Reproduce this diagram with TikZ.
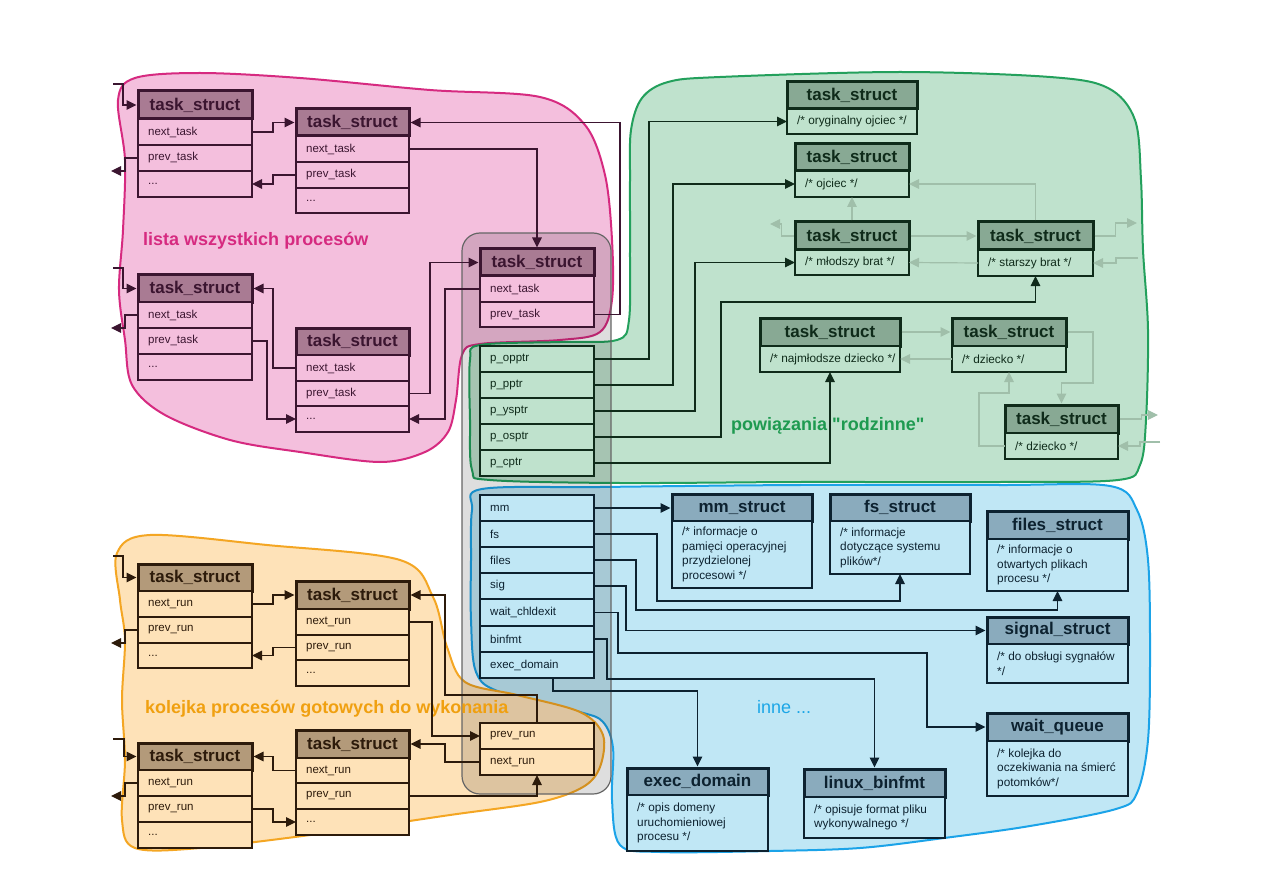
\documentclass[tikz,border=0pt]{standalone}
\usepackage{fontspec}
\setmainfont{Liberation Sans}[Ligatures=TeXOff]
\usetikzlibrary{arrows.meta,calc}
\definecolor{pF}{HTML}{F4BFDD}\definecolor{pO}{HTML}{D62A80}\definecolor{pH}{HTML}{A97B93}\definecolor{pD}{HTML}{3B1530}
\definecolor{gF}{HTML}{BFE2CD}\definecolor{gO}{HTML}{23A05C}\definecolor{gH}{HTML}{88A994}\definecolor{gD}{HTML}{0F2B1A}\definecolor{gL}{HTML}{A0BFAA}\definecolor{gT}{HTML}{1E9A50}
\definecolor{bF}{HTML}{C0E7F5}\definecolor{bO}{HTML}{1BA3E8}\definecolor{bH}{HTML}{8AABBD}\definecolor{bD}{HTML}{0D2230}\definecolor{bT}{HTML}{1BA6E6}
\definecolor{oF}{HTML}{FEE2B8}\definecolor{oO}{HTML}{F4A623}\definecolor{oH}{HTML}{B39A7A}\definecolor{oD}{HTML}{2D1B0B}\definecolor{oT}{HTML}{F0A010}
\newcommand{\hdrbx}[7]{\pgfmathsetmacro\bxw{#5-#3}\pgfmathsetmacro\bxh{#6-#4}\pgfmathsetmacro\bxx{(#3+#5)/2}\pgfmathsetmacro\bxy{(#4+#6)/2}\node[#2, minimum width=\bxw pt, minimum height=\bxh pt] (#1) at (\bxx,\bxy) {#7};}
\newcommand{\rowbx}[8]{\hdrbx{#1}{#2}{#3}{#4}{#5}{#6}{}\node[#7] (#1t) at ([xshift=10pt]#1.west) {#8};}
\begin{document}
\begin{tikzpicture}[x=1pt,y=-1pt,
  hdrbase/.style={draw, line width=3pt, inner sep=0pt, outer sep=1.5pt, font=\bfseries\fontsize{17}{20}\selectfont},
  hP/.style={hdrbase, fill=pH, draw=pD, text=pD},
  hG/.style={hdrbase, fill=gH, draw=gD, text=gD},
  hB/.style={hdrbase, fill=bH, draw=bD, text=bD},
  hO/.style={hdrbase, fill=oH, draw=oD, text=oD},
  rowbase/.style={draw, line width=1.2pt, inner sep=0pt, outer sep=0pt},
  rP/.style={rowbase, fill=pF, draw=pD},
  rG/.style={rowbase, fill=gF, draw=gD},
  rB/.style={rowbase, fill=bF, draw=bD},
  rO/.style={rowbase, fill=oF, draw=oD},
  lbl/.style={inner sep=0pt, font=\fontsize{11.5}{14}\selectfont, align=left, anchor=west, text=#1},
  cmt/.style={inner sep=0pt, font=\fontsize{11.8}{14.5}\selectfont, align=left, anchor=west, text=#1},
  con/.style={line width=1.2pt, -{Triangle[length=10pt,width=9.5pt]}},
  cP/.style={con, draw=pD}, cG/.style={con, draw=gD}, cB/.style={con, draw=bD}, cO/.style={con, draw=oD},
  cF/.style={con, draw=gL},
  region/.style={line width=2pt},
  ttl/.style={font=\bfseries\fontsize{18}{20}\selectfont, inner sep=0pt, anchor=west}
]
\useasboundingbox (0,0) rectangle (1263,893);
\fill[white] (0,0) rectangle (1263,893);
% regions
\draw[region, fill=pF, draw=pO] plot[smooth cycle, tension=0.55] coordinates {(118,100) (135,78) (200,73) (300,78) (430,90) (540,97) (585,125) (605,175) (612,240) (612,300) (600,332) (560,340) (480,344) (462,355) (456,400) (448,432) (425,452) (380,462) (300,452) (230,440) (165,415) (132,385) (125,340) (119,290) (123,230) (125,160)};
\draw[region, fill=gF, draw=gO] plot[smooth cycle, tension=0.55] coordinates {(631,130) (642,98) (668,82) (720,77) (900,72) (1050,77) (1108,88) (1135,120) (1141,180) (1143,250) (1148,330) (1146,420) (1140,465) (1118,480) (1000,482) (800,482) (620,483) (490,480) (472,470) (470,420) (470,360) (480,345) (560,342) (617,340) (629,320) (630,250) (630,180)};
\draw[region, fill=bF, draw=bO] plot[smooth cycle, tension=0.55] coordinates {(472,510) (482,489) (600,487) (800,485) (1000,485) (1110,486) (1137,510) (1148,560) (1150,650) (1148,740) (1137,793) (1116,809) (1030,826) (944,838) (860,848) (770,851) (660,852) (620,845) (612,800) (613,748) (603,722) (580,712) (500,692) (476,672) (471,620) (471,560)};
\draw[region, fill=oF, draw=oO] plot[smooth cycle, tension=0.55] coordinates {(117,553) (150,535) (267,545) (400,560) (433,597) (447,647) (465,682) (517,695) (580,712) (603,735) (600,767) (583,787) (540,802) (450,815) (333,832) (200,848) (135,848) (122,820) (125,760) (122,700) (125,640) (120,600)};
% central task_struct frame
\draw[fill=black, fill opacity=0.13, draw=black!60, line width=1.2pt, rounded corners=18pt] (462,233) rectangle (611,794);
% titles
\node[ttl, text=pO] (tP) at (143,241) {lista wszystkich procesów};
\node[ttl, text=gT] (tG) at (731,426) {powiązania "rodzinne"};
\node[inner sep=0pt, anchor=west, text=bT, font=\fontsize{18}{20}\selectfont] (tB) at (757,707) {inne ...};
\node[ttl, text=oT] (tO) at (145,709) {kolejka procesów gotowych do wykonania};
% ---------- boxes: pink
\hdrbx{A1h}{hP}{138}{91}{252}{119}{task\_struct}
\rowbx{A1a}{rP}{138}{119}{252}{145}{lbl=pD}{next\_task}
\rowbx{A1b}{rP}{138}{145}{252}{171}{lbl=pD}{prev\_task}
\rowbx{A1c}{rP}{138}{171}{252}{197}{lbl=pD}{...}
\hdrbx{A2h}{hP}{296}{109}{409}{136}{task\_struct}
\rowbx{A2a}{rP}{296}{136}{409}{162}{lbl=pD}{next\_task}
\rowbx{A2b}{rP}{296}{162}{409}{188}{lbl=pD}{prev\_task}
\rowbx{A2c}{rP}{296}{188}{409}{213}{lbl=pD}{...}
\hdrbx{B1h}{hP}{138}{275}{252}{302}{task\_struct}
\rowbx{B1a}{rP}{138}{302}{252}{328}{lbl=pD}{next\_task}
\rowbx{B1b}{rP}{138}{328}{252}{354}{lbl=pD}{prev\_task}
\rowbx{B1c}{rP}{138}{354}{252}{380}{lbl=pD}{...}
\hdrbx{B2h}{hP}{296}{328}{409}{355}{task\_struct}
\rowbx{B2a}{rP}{296}{355}{409}{381}{lbl=pD}{next\_task}
\rowbx{B2b}{rP}{296}{381}{409}{406}{lbl=pD}{prev\_task}
\rowbx{B2c}{rP}{296}{406}{409}{432}{lbl=pD}{...}
% central column
\hdrbx{Ch}{hP}{480}{249}{594}{276}{task\_struct}
\rowbx{Ca}{rP}{480}{276}{594}{302}{lbl=pD}{next\_task}
\rowbx{Cb}{rP}{480}{302}{594}{327}{lbl=pD}{prev\_task}
\rowbx{Gp1}{rG}{480}{346}{594}{372}{lbl=gD}{p\_opptr}
\rowbx{Gp2}{rG}{480}{372}{594}{398}{lbl=gD}{p\_pptr}
\rowbx{Gp3}{rG}{480}{398}{594}{424}{lbl=gD}{p\_ysptr}
\rowbx{Gp4}{rG}{480}{424}{594}{450}{lbl=gD}{p\_osptr}
\rowbx{Gp5}{rG}{480}{450}{594}{476}{lbl=gD}{p\_cptr}
\rowbx{Bm1}{rB}{480}{495}{594}{521}{lbl=bD}{mm}
\rowbx{Bm2}{rB}{480}{521}{594}{547}{lbl=bD}{fs}
\rowbx{Bm3}{rB}{480}{547}{594}{573}{lbl=bD}{files}
\rowbx{Bm4}{rB}{480}{573}{594}{599}{lbl=bD}{sig}
\rowbx{Bm5}{rB}{480}{599}{594}{626}{lbl=bD}{wait\_chldexit}
\rowbx{Bm6}{rB}{480}{626}{594}{652}{lbl=bD}{binfmt}
\rowbx{Bm7}{rB}{480}{652}{594}{678}{lbl=bD}{exec\_domain}
% ---------- pink connectors
\coordinate (Ai1) at (113,84); \coordinate (A1o) at (111,171);
\coordinate (Bi1) at (113,268); \coordinate (B1o) at (111,328);
\draw[cP] (Ai1) -- ++(10,0) |- (A1h.west);
\draw[cP] (A1b.west) -- ++(-13,0) |- (A1o);
\draw[cP] (A1a.east) -- ++(21,0) |- (A2h.west);
\draw[cP] (A2b.west) -- ++(-23,0) |- (A1c.east);
\draw[cP] (A2a.east) -| (Ch.north);
\draw[cP] (Cb.east) -- ++(26,0) |- (A2h.east);
\draw[cP] (Bi1) -- ++(10,0) |- (B1h.west);
\draw[cP] (B1a.west) -- ++(-13,0) |- (B1o);
\draw[cP] (B2a.west) -- ++(-23,0) |- (B1h.east);
\draw[cP] (B1b.east) -- ++(15,0) |- (B2c.west);
\draw[cP] (B2b.east) -- ++(21,0) |- (Ch.west);
\draw[cP] (Ca.west) -- ++(-35,0) |- (B2c.east);
% green structs
\hdrbx{G1h}{hG}{787}{82}{917}{109}{task\_struct}
\rowbx{G1b}{rG}{787}{109}{917}{134}{cmt=gD}{/* oryginalny ojciec */}
\hdrbx{G2h}{hG}{795}{144}{909}{171}{task\_struct}
\rowbx{G2b}{rG}{795}{171}{909}{197}{cmt=gD}{/* ojciec */}
\hdrbx{G3h}{hG}{795}{222}{909}{250}{task\_struct}
\rowbx{G3b}{rG}{795}{250}{909}{275}{cmt=gD}{/* młodszy brat */}
\hdrbx{G4h}{hG}{978}{222}{1093}{250}{task\_struct}
\rowbx{G4b}{rG}{978}{250}{1093}{276}{cmt=gD}{/* starszy brat */}
\hdrbx{G5h}{hG}{760}{318}{900}{346}{task\_struct}
\rowbx{G5b}{rG}{760}{346}{900}{372}{cmt=gD}{/* najmłodsze dziecko */}
\hdrbx{G6h}{hG}{952}{318}{1066}{346}{task\_struct}
\rowbx{G6b}{rG}{952}{346}{1066}{372}{cmt=gD}{/* dziecko */}
\hdrbx{G7h}{hG}{1005}{405}{1118}{433}{task\_struct}
\rowbx{G7b}{rG}{1005}{433}{1118}{459}{cmt=gD}{/* dziecko */}
\draw[cG] (Gp1.east) -- ++(55,0) |- (G1b.west);
\draw[cG] (Gp2.east) -- ++(79,0) |- (G2b.west);
\draw[cG] (Gp3.east) -- ++(101,0) |- (G3b.west);
\draw[cG] (Gp4.east) -| (721,302) -| (G4b.south);
\draw[cG] (Gp5.east) -| (G5b.south);
\coordinate (Fo1) at (770,224); \coordinate (Fo2) at (1137,223); \coordinate (Fi2) at (1138,258);
\coordinate (Fo3) at (1158,415); \coordinate (Fi3) at (1160,442);
\draw[cF] (G3h.north) -- (G2b.south);
\draw[cF] (G3h.west) -- ++(-12,0) |- (Fo1);
\draw[cF] (G4h.north) |- (G2b.east);
\draw[cF] (G3h.east) -- (G4h.west);
\draw[cF] (G4b.west) -- (G3b.east);
\draw[cF] (G4h.east) -- ++(21,0) |- (Fo2);
\draw[cF] (Fi2) -| (1116,263) -- (G4b.east);
\draw[cF] (G5h.east) -- (G6h.west);
\draw[cF] (G6b.west) -- (G5b.east);
\draw[cF] (G6h.east) -| (1093,383) -| (G7h.north);
\draw[cF] (G7b.west) -| (979,393) -| (G6b.south);
\draw[cF] (G7h.east) -- ++(22,0) |- (Fo3);
\draw[cF] (Fi3) -| (1140,446) -- (G7b.east);
% blue structs
\hdrbx{mmh}{hB}{672}{494}{812}{521}{mm\_struct}
\rowbx{mmb}{rB}{672}{521}{812}{588}{cmt=bD}{/* informacje o\\pamięci operacyjnej\\przydzielonej\\procesowi */}
\hdrbx{fsh}{hB}{830}{494}{970}{521}{fs\_struct}
\rowbx{fsb}{rB}{830}{521}{970}{574}{cmt=bD}{/* informacje\\dotyczące systemu\\plików*/}
\hdrbx{fih}{hB}{987}{511}{1128}{539}{files\_struct}
\rowbx{fib}{rB}{987}{539}{1128}{591}{cmt=bD}{/* informacje o\\otwartych plikach\\procesu */}
\hdrbx{sih}{hB}{987}{617}{1128}{644}{signal\_struct}
\rowbx{sib}{rB}{987}{644}{1128}{683}{cmt=bD}{/* do obsługi sygnałów\\*/}
\hdrbx{wqh}{hB}{987}{713}{1128}{741}{wait\_queue}
\rowbx{wqb}{rB}{987}{741}{1128}{796}{cmt=bD}{/* kolejka do\\oczekiwania na śmierć\\potomków*/}
\hdrbx{edh}{hB}{627}{768}{768}{795}{exec\_domain}
\rowbx{edb}{rB}{627}{795}{768}{851}{cmt=bD}{/* opis domeny\\uruchomieniowej\\procesu */}
\hdrbx{lbh}{hB}{804}{769}{945}{797}{linux\_binfmt}
\rowbx{lbb}{rB}{804}{797}{945}{838}{cmt=bD}{/* opisuje format pliku\\wykonywalnego */}
\draw[cB] (Bm1.east) -- (Bm1.east -| mmh.west);
\draw[cB] (Bm2.east) -| (657,601) -| (fsb.south);
\draw[cB] (Bm3.east) -| (636,610) -| (fib.south);
\draw[cB] (Bm4.east) -| (626,630.5) -- (sih.west);
\draw[cB] (Bm5.east) -| (618,653) -| (927,727) -- (wqh.west);
\draw[cB] (Bm6.east) -| (607,679) -| (lbh.north);
\draw[cB] ([xshift=16pt]Bm7.south) -- ++(0,13) -| (edh.north);
% orange
\rowbx{Op}{rO}{480}{723}{594}{749}{lbl=oD}{prev\_run}
\rowbx{On}{rO}{480}{749}{594}{775}{lbl=oD}{next\_run}
\hdrbx{C1h}{hO}{138}{564}{252}{591}{task\_struct}
\rowbx{C1a}{rO}{138}{591}{252}{617}{lbl=oD}{next\_run}
\rowbx{C1b}{rO}{138}{617}{252}{643}{lbl=oD}{prev\_run}
\rowbx{C1c}{rO}{138}{643}{252}{668}{lbl=oD}{...}
\hdrbx{C2h}{hO}{296}{581}{409}{609}{task\_struct}
\rowbx{C2a}{rO}{296}{609}{409}{635}{lbl=oD}{next\_run}
\rowbx{C2b}{rO}{296}{635}{409}{660}{lbl=oD}{prev\_run}
\rowbx{C2c}{rO}{296}{660}{409}{686}{lbl=oD}{...}
\hdrbx{D1h}{hO}{138}{743}{252}{770}{task\_struct}
\rowbx{D1a}{rO}{138}{770}{252}{796}{lbl=oD}{next\_run}
\rowbx{D1b}{rO}{138}{796}{252}{822}{lbl=oD}{prev\_run}
\rowbx{D1c}{rO}{138}{822}{252}{848}{lbl=oD}{...}
\hdrbx{D2h}{hO}{296}{730}{409}{758}{task\_struct}
\rowbx{D2a}{rO}{296}{758}{409}{783}{lbl=oD}{next\_run}
\rowbx{D2b}{rO}{296}{783}{409}{809}{lbl=oD}{prev\_run}
\rowbx{D2c}{rO}{296}{809}{409}{835}{lbl=oD}{...}
\coordinate (Ci1) at (113,556); \coordinate (C1o) at (111,643);
\coordinate (Di1) at (113,739); \coordinate (D1o) at (111,796);
\draw[cO] (Ci1) -- ++(10,0) |- (C1h.west);
\draw[cO] (C1b.west) -- ++(-13,0) |- (C1o);
\draw[cO] (C1a.east) -- ++(21,0) |- (C2h.west);
\draw[cO] (C2b.west) -- ++(-23,0) |- (C1c.east);
\draw[cO] (C2a.east) -- ++(23,0) |- (Op.west);
\draw[cO] (Op.north) -- ++(0,-28) -| (445,595) -- (C2h.east);
\draw[cO] (On.west) -- ++(-35,0) |- (D2h.east);
\draw[cO] (D2b.east) -| (On.south);
\draw[cO] (Di1) -- ++(11,0) |- (D1h.west);
\draw[cO] (D1a.west) -- ++(-13,0) |- (D1o);
\draw[cO] (D2a.west) -- ++(-23,0) |- (D1h.east);
\draw[cO] (D1b.east) -- ++(21,0) |- (D2c.west);
\end{tikzpicture}
\end{document}
